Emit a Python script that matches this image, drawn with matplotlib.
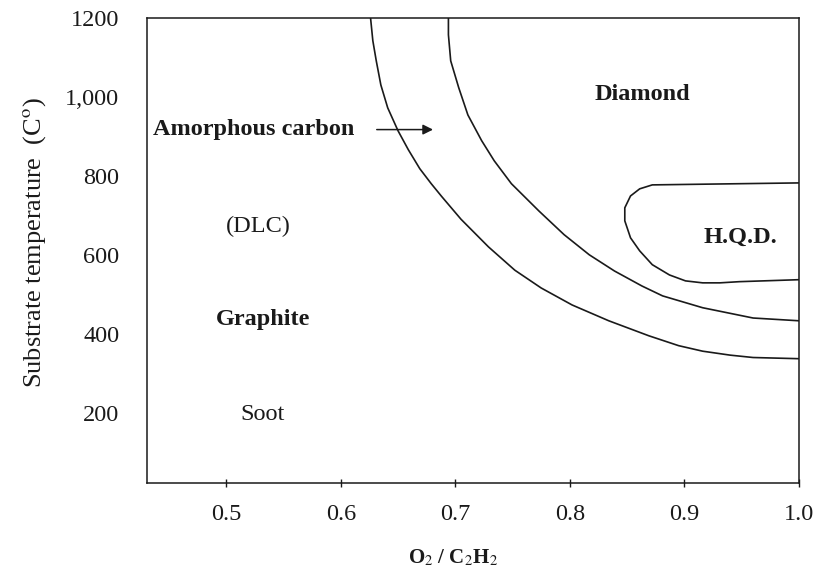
import matplotlib
matplotlib.use('Agg')
import matplotlib.pyplot as plt

plt.rcParams['font.family'] = ['Liberation Serif', 'DejaVu Serif']
plt.rcParams['mathtext.fontset'] = 'stix'

# boundary curves: O2/C2H2 ratio vs substrate temperature (C)
outer_x = [0.626, 0.628, 0.631, 0.635, 0.641, 0.650, 0.659, 0.669, 0.679, 0.688, 0.705,
           0.729, 0.752, 0.775, 0.802, 0.834, 0.869, 0.895, 0.916, 0.940, 0.960, 1.0]
outer_t = [1200, 1142, 1091, 1030, 972, 914, 866, 818, 780, 748, 690,
           620, 561, 516, 473, 433, 395, 370, 356, 346, 340, 337]

inner_x = [0.694, 0.694, 0.696, 0.703, 0.711, 0.723, 0.734, 0.749, 0.773, 0.795,
           0.817, 0.839, 0.863, 0.881, 0.916, 0.960, 1.0]
inner_t = [1200, 1157, 1091, 1023, 954, 889, 838, 780, 711, 651,
           600, 559, 521, 496, 466, 440, 433]

hqd_x = [1.0, 0.948, 0.872, 0.861, 0.853, 0.848, 0.848, 0.853, 0.861, 0.872,
         0.887, 0.901, 0.916, 0.931, 0.948, 1.0]
hqd_t = [782, 780, 777, 767, 749, 719, 686, 643, 610, 575,
         549, 534, 529, 529, 532, 537]

xticks = [0.5, 0.6, 0.7, 0.8, 0.9, 1.0]
xtick_labels = ['0.5', '0.6', '0.7', '0.8', '0.9', '1.0']
yticks = [200, 400, 600, 800, 1000, 1200]
ytick_labels = ['200', '400', '600', '800', '1,000', '1200']

# region names and where they sit
regions = ['Diamond', '(DLC)', 'H.Q.D.', 'Graphite', 'Soot']
region_x = [0.863, 0.528, 0.949, 0.532, 0.532]
region_t = [1005, 673, 643, 435, 195]
region_bold = [True, False, True, True, False]

ink = '#1a1a1a'

fig = plt.figure(figsize=(8.27, 5.74), dpi=100)
ax = fig.add_axes([0.178, 0.159, 0.788, 0.810])

ax.plot(outer_x, outer_t, color=ink, lw=1.2)
ax.plot(inner_x, inner_t, color=ink, lw=1.2)
ax.plot(hqd_x, hqd_t, color=ink, lw=1.2)

for name, x, t, b in zip(regions, region_x, region_t, region_bold):
    ax.text(x, t, name, ha='center', va='center', fontsize=17.5, color=ink,
            fontweight='bold' if b else 'normal')

ax.text(0.436, 917, 'Amorphous carbon', ha='left', va='center', fontsize=17.5,
        color=ink, fontweight='bold')
ax.annotate('', xy=(0.683, 917), xytext=(0.629, 917),
            arrowprops=dict(arrowstyle='-|>', color=ink, lw=1.1, mutation_scale=15))

ax.set_xlim(0.431, 1.0)
ax.set_ylim(23, 1200)

ax.set_xticks(xticks)
ax.set_xticklabels(xtick_labels)
ax.set_yticks(yticks)
ax.set_yticklabels(ytick_labels)
ax.tick_params(axis='x', direction='inout', length=6, width=1, pad=12,
               labelsize=17.5, colors=ink)
ax.tick_params(axis='y', length=0, pad=20, labelsize=17.5, colors=ink)

for sp in ax.spines.values():
    sp.set_color(ink)
    sp.set_linewidth(1.1)

ax.set_ylabel('Substrate temperature  (C$^{\\rm o}$)', fontsize=19, color=ink)
ax.yaxis.set_label_coords(-0.152, 0.516)
ax.text(0.469, -0.161, 'O$_2$ / C$_2$H$_2$', transform=ax.transAxes, ha='center',
        va='center', fontsize=15, color=ink, fontweight='bold')

fig.savefig('out.png', dpi=100, facecolor='white')
